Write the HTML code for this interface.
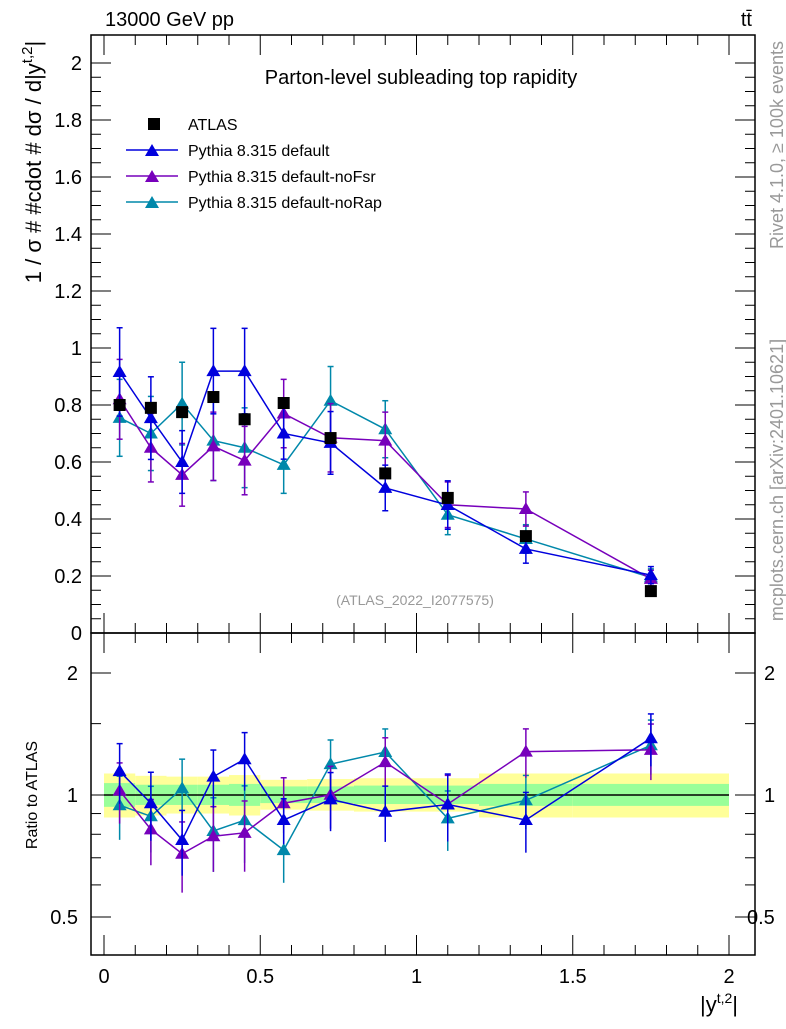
<!DOCTYPE html>
<html><head><meta charset="utf-8"><style>
body{margin:0;background:#fff;font-family:"Liberation Sans",sans-serif;}
svg text{font-family:"Liberation Sans",sans-serif;}
</style></head><body>
<svg id="c" width="786" height="1024" xmlns="http://www.w3.org/2000/svg">
<g id="g"></g>
</svg>
<script>
const centers=[0.05,0.15,0.25,0.35,0.45,0.575,0.725,0.9,1.1,1.35,1.75];
const edges=[0,0.1,0.2,0.3,0.4,0.5,0.65,0.8,1.0,1.2,1.5,2.0];
const atlas=[0.80,0.79,0.775,0.828,0.75,0.807,0.684,0.56,0.474,0.34,0.147];
const bandYellowUp=[0.13,0.115,0.11,0.11,0.12,0.09,0.095,0.10,0.10,0.13,0.13];
const bandYellowDn=[0.12,0.11,0.10,0.10,0.11,0.08,0.085,0.09,0.09,0.12,0.12];
const bandGreenUp=[0.07,0.06,0.06,0.06,0.065,0.05,0.05,0.055,0.055,0.065,0.065];
const bandGreenDn=[0.065,0.055,0.055,0.055,0.06,0.045,0.045,0.05,0.05,0.06,0.06];
const defVals=[0.916,0.754,0.60,0.919,0.919,0.70,0.667,0.509,0.449,0.295,0.203];
const defErr=[0.155,0.145,0.11,0.15,0.15,0.09,0.11,0.08,0.085,0.05,0.03];
const fsrVals=[0.82,0.65,0.555,0.655,0.605,0.77,0.685,0.675,0.45,0.435,0.19];
const fsrErr=[0.14,0.12,0.11,0.12,0.12,0.12,0.12,0.1,0.08,0.06,0.03];
const rapVals=[0.755,0.70,0.805,0.675,0.65,0.59,0.815,0.715,0.415,0.33,0.195];
const rapErr=[0.135,0.13,0.145,0.14,0.14,0.1,0.12,0.1,0.07,0.05,0.03];
const mainTicks=[0,0.2,0.4,0.6,0.8,1,1.2,1.4,1.6,1.8,2];
const xTicks=[0,0.5,1,1.5,2];
const NS="http://www.w3.org/2000/svg";
const g=document.getElementById('g');
const X0=91,X1=755,MT=35,MB=633,RB=955;
const sx=v=>104+v*312.5;
const sy=v=>633-v*285;
const sr=r=>795-122*Math.log2(r);
function el(t,a,p){const e=document.createElementNS(NS,t);for(const k in a)e.setAttribute(k,a[k]);(p||g).appendChild(e);return e;}
function txt(x,y,s,o,p){const e=el('text',Object.assign({x:x,y:y,'font-size':20,fill:'#000'},o||{}),p);e.textContent=s;return e;}
for(let i=0;i<centers.length;i++){
 const a=el('rect',{x:sx(edges[i]),y:sr(1+bandYellowUp[i]),width:sx(edges[i+1])-sx(edges[i]),height:sr(1-bandYellowDn[i])-sr(1+bandYellowUp[i]),fill:'#ffff99'});
 
 
 const b=el('rect',{x:sx(edges[i]),y:sr(1+bandGreenUp[i]),width:sx(edges[i+1])-sx(edges[i]),height:sr(1-bandGreenDn[i])-sr(1+bandGreenUp[i]),fill:'#99ff99'});
 
 
}
el('line',{x1:sx(0),x2:sx(2),y1:sr(1),y2:sr(1),stroke:'#000','stroke-width':1.5});
const f1=el('rect',{x:X0,y:MT,width:X1-X0,height:MB-MT,fill:'none',stroke:'#000','stroke-width':1.5});

const f2=el('rect',{x:X0,y:MB,width:X1-X0,height:RB-MB,fill:'none',stroke:'#000','stroke-width':1.5});

for(let v=0;v<=2.0001;v+=0.05){const big=Math.abs(v*5-Math.round(v*5))<1e-6;const L=big?20:10;const y=sy(v);if(y<MT)continue;
 el('line',{x1:X0,x2:X0+L,y1:y,y2:y,stroke:'#000'});el('line',{x1:X1-L,x2:X1,y1:y,y2:y,stroke:'#000'});}
mainTicks.forEach(v=>{const t=txt(82,sy(v)+7,String(v),{'text-anchor':'end'});});
for(let v=0;v<=2.0001;v+=0.1){const big=Math.abs(v*2-Math.round(v*2))<1e-6;const L=big?20:10;const x=sx(v);
 [[MT,1],[MB,-1],[MB,1],[RB,-1]].forEach(([y,d])=>el('line',{x1:x,x2:x,y1:y,y2:y+d*L,stroke:'#000'}));}
xTicks.forEach(v=>{const t=txt(sx(v),983,String(v),{'text-anchor':'middle'});});
[0.5,0.6,0.7,0.8,0.9,1,1.5,2].forEach(r=>{const big=(r==0.5||r==1||r==2);const L=big?20:10;const y=sr(r);
 el('line',{x1:X0,x2:X0+L,y1:y,y2:y,stroke:'#000'});el('line',{x1:X1-L,x2:X1,y1:y,y2:y,stroke:'#000'});});
[0.5,1,2].forEach(r=>{const a=txt(78,sr(r)+7,String(r),{'text-anchor':'end'});
 const b=txt(r==0.5?747:764,sr(r)+7,String(r),{'text-anchor':'start'});});
function tri(x,y,c,p){return el('polygon',{points:`${x},${y-7} ${x-7},${y+5} ${x+7},${y+5}`,fill:c},p);}
function series(vals,errs,c,name){
 const gp=el('g',{});
 el('polyline',{points:centers.map((x,i)=>sx(x)+','+sy(vals[i])).join(' '),fill:'none',stroke:c,'stroke-width':1.5},gp);
 el('polyline',{points:centers.map((x,i)=>sx(x)+','+sr(vals[i]/atlas[i])).join(' '),fill:'none',stroke:c,'stroke-width':1.5},gp);
 centers.forEach((x,i)=>{const X=sx(x);
  const y1=sy(vals[i]+errs[i]),y2=sy(vals[i]-errs[i]);
  el('line',{x1:X,x2:X,y1:y1,y2:y2,stroke:c,'stroke-width':1.5},gp);
  el('line',{x1:X-3,x2:X+3,y1:y1,y2:y1,stroke:c,'stroke-width':1.5},gp);el('line',{x1:X-3,x2:X+3,y1:y2,y2:y2,stroke:c,'stroke-width':1.5},gp);
  const r=vals[i]/atlas[i],re=errs[i]/atlas[i];
  const r1=sr(r+re),r2=Math.min(RB,sr(Math.max(r-re,0.3)));
  el('line',{x1:X,x2:X,y1:r1,y2:r2,stroke:c,'stroke-width':1.5},gp);
  el('line',{x1:X-3,x2:X+3,y1:r1,y2:r1,stroke:c,'stroke-width':1.5},gp);
  const m=tri(X,sy(vals[i]),c,gp);
  const n=tri(X,sr(r),c,gp);
 });}
series(rapVals,rapErr,'#0088aa','noRap-series');
series(fsrVals,fsrErr,'#7700bb','noFsr-series');
series(defVals,defErr,'#0000dd','default-series');
centers.forEach((x,i)=>{const r=el('rect',{x:sx(x)-6,y:sy(atlas[i])-6,width:12,height:12,fill:'#000'});
 });
const lg=el('g',{});
el('rect',{x:148,y:118,width:12,height:12,fill:'#000'},lg);
txt(188,130,'ATLAS',{'font-size':16},lg);
[['Pythia 8.315 default','#0000dd'],['Pythia 8.315 default-noFsr','#7700bb'],['Pythia 8.315 default-noRap','#0088aa']].forEach(([s,c],i)=>{
 const y=150+i*26;el('line',{x1:126,x2:178,y1:y,y2:y,stroke:c,'stroke-width':1.5},lg);tri(152,y+1,c,lg);txt(188,y+6,s,{'font-size':16},lg);});
let t=txt(105,26,'13000 GeV pp',{'font-size':20});
t=txt(752,26,'tt̄',{'font-size':20,'text-anchor':'end'});
t=txt(421,84,'Parton-level subleading top rapidity',{'font-size':20,'text-anchor':'middle'});
t=txt(415,605,'(ATLAS_2022_I2077575)',{'font-size':14,'text-anchor':'middle',fill:'#999'});
t=txt(0,0,'',{'font-size':22,transform:'translate(41,162) rotate(-90)','text-anchor':'middle'});
t.textContent='1 / σ # #cdot # dσ / d|y';const ts=el('tspan',{dy:-9,'font-size':15},t);ts.textContent='t,2';const ts2=el('tspan',{dy:9},t);ts2.textContent='|';
t=txt(0,0,'Ratio to ATLAS',{'font-size':16,transform:'translate(37,795) rotate(-90)','text-anchor':'middle'});
t=txt(700,1012,'|y',{'font-size':22});
const xs=el('tspan',{dy:-9,'font-size':14},t);xs.textContent='t,2';const xs2=el('tspan',{dy:9},t);xs2.textContent='|';
t=txt(0,0,'Rivet 4.1.0, ≥ 100k events',{'font-size':18,fill:'#999',transform:'translate(783,145) rotate(-90)','text-anchor':'middle'});
t=txt(0,0,'mcplots.cern.ch [arXiv:2401.10621]',{'font-size':18,fill:'#999',transform:'translate(783,480) rotate(-90)','text-anchor':'middle'});
</script>
</body></html>
